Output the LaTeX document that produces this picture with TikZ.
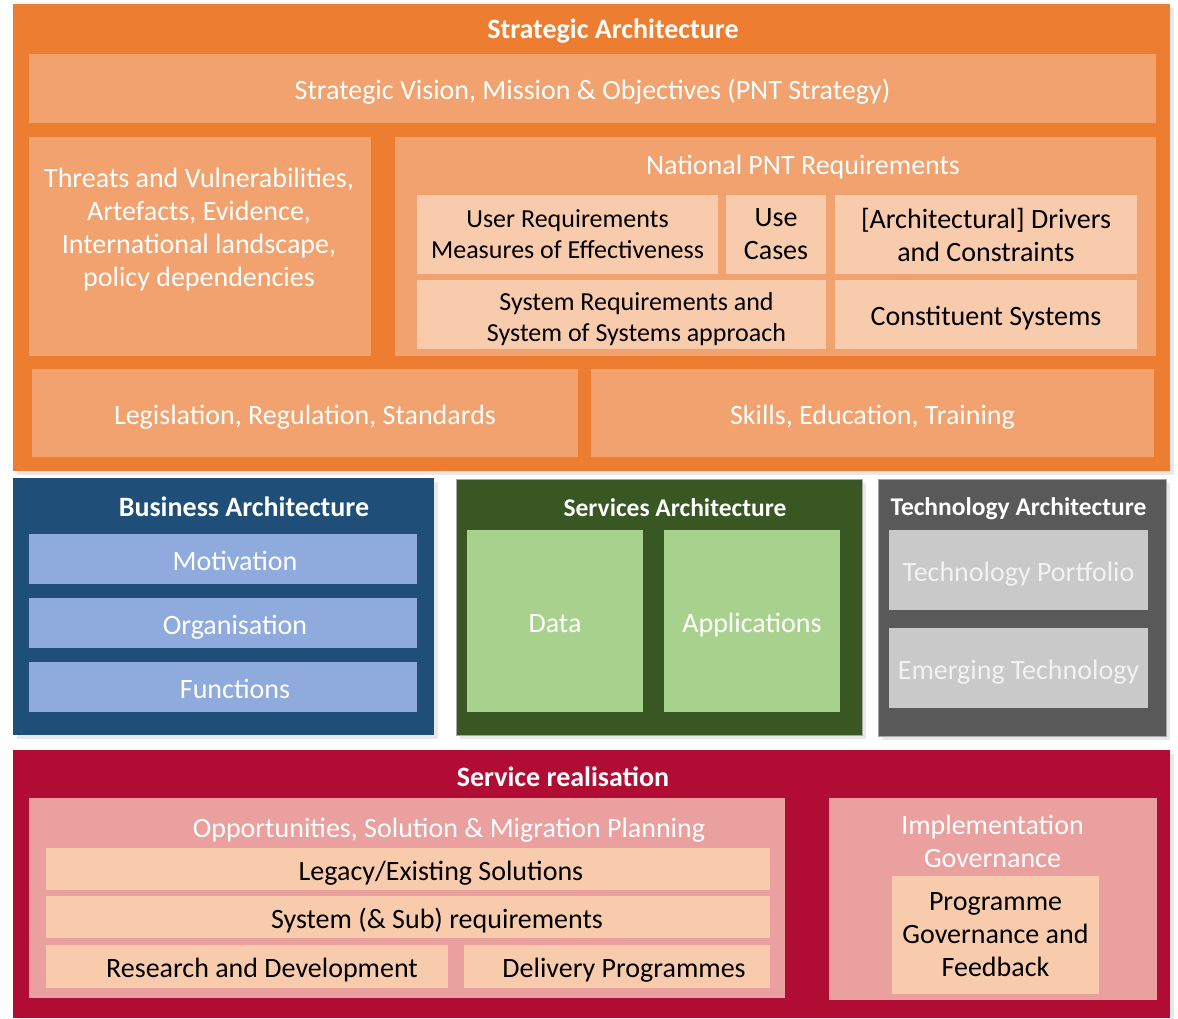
\documentclass[tikz,border=0pt]{standalone}
\usepackage{fontspec}
\setmainfont{Carlito}
\usetikzlibrary{shadows}
\definecolor{stratdark}{HTML}{ED7D31}
\definecolor{stratmid}{HTML}{F1A26E}
\definecolor{paleorange}{HTML}{F8CBAD}
\definecolor{busdark}{HTML}{1F4E79}
\definecolor{buslight}{HTML}{8FAADC}
\definecolor{servdark}{HTML}{385723}
\definecolor{servlight}{HTML}{A9D18E}
\definecolor{techdark}{HTML}{595959}
\definecolor{techlight}{HTML}{C9C9C9}
\definecolor{techtext}{HTML}{F2F2F2}
\definecolor{realdark}{HTML}{B10C34}
\definecolor{realmid}{HTML}{EAA09F}
\tikzset{
  font={\fontsize{28pt}{33pt}\selectfont},
  narrow/.style={font={\fontsize{26pt}{31pt}\selectfont}},
  one/.style={text height=22pt, text depth=0pt},
  wh/.style 2 args={minimum width=#1pt, minimum height=#2pt},
  box/.style={rectangle, inner sep=0pt, align=center, fill=#1},
  layer/.style={box=#1, drop shadow={opacity=0.18, shadow xshift=4pt, shadow yshift=-4pt}},
  head/.style={font={\fontsize{28pt}{33pt}\selectfont\bfseries}, text=white, inner sep=0pt},
  smallhead/.style={head, font={\fontsize{25.5pt}{30pt}\selectfont\bfseries}},
  lbl/.style={text=#1, inner sep=0pt, align=center}}

\begin{document}
\begin{tikzpicture}[x=1pt,y=-1pt]
\useasboundingbox (0,0) rectangle (1178,1018);
% strategic layer
\node[layer=stratdark, wh={1157}{467}] (strat) at (591.5,237.5) {};
\node[head] (strattitle) at (613,31) {Strategic Architecture};
\node[box=stratmid, wh={1127}{69}, one, text=white] (vision) at (592.5,88.5) {Strategic Vision, Mission \& Objectives (PNT Strategy)};
\node[box=stratmid, wh={342}{219}] (threats) at (200,246.5) {};
\node[lbl=white] (threatstxt) at (199,230) {Threats and Vulnerabilities,\\Artefacts, Evidence,\\International landscape,\\policy dependencies};
\node[box=stratmid, wh={761}{219}] (pnt) at (775.5,246.5) {};
\node[lbl=white] (pnttitle) at (803,167) {National PNT Requirements};
\node[box=paleorange, wh={301}{79}, narrow] (userreq) at (567.5,234.5) {User Requirements\\Measures of Effectiveness};
\node[box=paleorange, wh={100}{79}] (usecases) at (776,234.5) {Use\\Cases};
\node[box=paleorange, wh={302}{79}] (drivers) at (986,234.5) {[Architectural] Drivers\\and Constraints};
\node[box=paleorange, wh={409}{69}, label={[lbl=black, narrow, xshift=15pt, yshift=-5pt]center:System Requirements and\\System of Systems approach}] (sysreq) at (621.5,314.5) {};
\node[box=paleorange, wh={302}{69}, one] (constit) at (986,314.5) {Constituent Systems};
\node[box=stratmid, wh={546}{88}, one, text=white] (legis) at (305,413) {Legislation, Regulation, Standards};
\node[box=stratmid, wh={563}{88}, one, text=white] (skills) at (872.5,413) {Skills, Education, Training};

% business layer
\node[layer=busdark, wh={421}{257}] (business) at (223.5,606.5) {};
\node[head] (bustitle) at (244,507) {Business Architecture};
\node[box=buslight, wh={388}{50}, label={[lbl=white, one, xshift=12pt]center:Motivation}] (motiv) at (223,559) {};
\node[box=buslight, wh={388}{50}, label={[lbl=white, one, xshift=12pt]center:Organisation}] (organ) at (223,623) {};
\node[box=buslight, wh={388}{50}, label={[lbl=white, one, xshift=12pt]center:Functions}] (functions) at (223,687) {};

% services layer
\node[layer=servdark, wh={406}{256}, draw=gray!70, line width=0.8pt] (services) at (659,607) {};
\node[smallhead] (servtitle) at (675,508) {Services Architecture};
\node[box=servlight, wh={176}{182}, one, text=white] (data) at (555,621) {Data};
\node[box=servlight, wh={176}{182}, one, text=white] (apps) at (752,621) {Applications};

% technology layer
\node[layer=techdark, wh={288}{257}, draw=gray!70, line width=0.8pt] (tech) at (1022,607.5) {};
\node[smallhead] (techtitle) at (1018.5,509) {Technology Architecture};
\node[box=techlight, wh={259}{80}, one, text=techtext] (techport) at (1018.5,570) {Technology Portfolio};
\node[box=techlight, wh={259}{80}, one, text=techtext] (emerging) at (1018.5,668) {Emerging Technology};

% service realisation
\node[layer=realdark, wh={1157}{268}] (realis) at (591.5,884) {};
\node[head] (realtitle) at (563,777) {Service realisation};
\node[box=realmid, wh={756}{200}] (opport) at (407,898) {};
\node[lbl=white] (opporttitle) at (449,830) {Opportunities, Solution \& Migration Planning};
\node[box=paleorange, wh={724}{42}, label={[lbl=black, one, xshift=33pt]center:Legacy/Existing Solutions}] (legacy) at (408,869) {};
\node[box=paleorange, wh={724}{42}, label={[lbl=black, one, xshift=29pt]center:System (\& Sub) requirements}] (syssub) at (408,917) {};
\node[box=paleorange, wh={402}{43}, label={[lbl=black, one, xshift=15pt]center:Research and Development}] (research) at (247,966.5) {};
\node[box=paleorange, wh={306}{43}, label={[lbl=black, one, xshift=7pt]center:Delivery Programmes}] (delivery) at (617,966.5) {};
\node[box=realmid, wh={328}{202}] (implgov) at (993,899) {};
\node[lbl=white] (implgovtitle) at (992.5,841) {Implementation\\Governance};
\node[box=paleorange, wh={207}{118}] (proggov) at (995.5,935) {Programme\\Governance and\\Feedback};
\end{tikzpicture}
\end{document}
